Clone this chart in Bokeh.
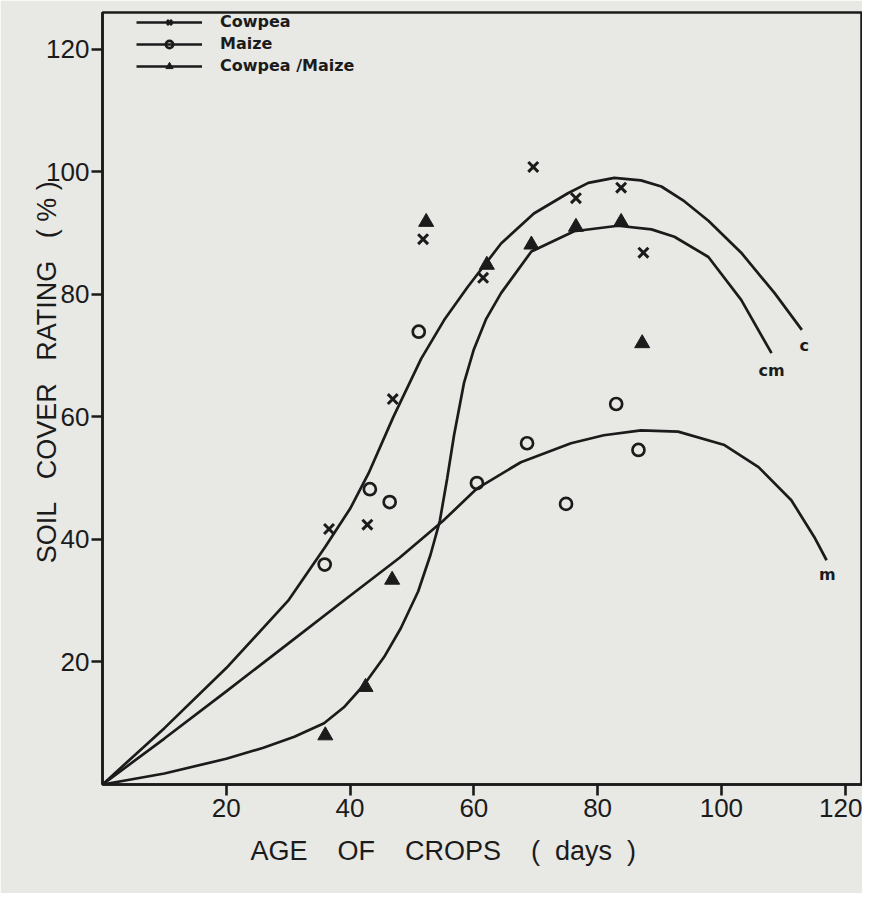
from bokeh.plotting import figure
from bokeh.models import Range1d, FixedTicker, Legend, LegendItem, Title
from bokeh.embed import file_html
from bokeh.resources import INLINE
from bokeh.core.properties import value

# ---- observed points (age in days, soil cover rating %) ----
cowpea_x = [36.6, 42.8, 46.9, 51.8, 61.5, 69.6, 76.5, 83.8, 87.4]
cowpea_y = [41.7, 42.4, 62.9, 89.0, 82.7, 100.8, 95.7, 97.4, 86.8]

maize_x = [35.9, 43.2, 46.4, 51.1, 60.5, 68.6, 74.9, 83.0, 86.6]
maize_y = [35.9, 48.2, 46.1, 73.9, 49.2, 55.7, 45.8, 62.1, 54.6]

cm_x = [36.0, 42.5, 46.8, 52.3, 62.1, 69.3, 76.5, 83.8, 87.2]
cm_y = [8.0, 15.9, 33.4, 91.8, 84.8, 88.1, 91.0, 91.8, 72.0]

# ---- hand-fitted curves ----
cowpea_curve_x = [0, 10, 20, 30, 36, 40, 43, 47, 51.5, 55.2, 59, 64.4, 69.7, 75.2, 78.5,
                  82.7, 87, 90.3, 94, 97.9, 103.2, 108.6, 113]
cowpea_curve_y = [0, 9.2, 19, 30, 38.8, 45, 50.8, 60, 69.5, 75.8, 81.2, 88.3, 93.2, 96.5, 98.2,
                  99.0, 98.6, 97.6, 95.2, 92.0, 86.8, 80.2, 74.2]

maize_curve_x = [0, 10, 20, 30, 40, 48, 55, 60.5, 67.6, 75.7, 81, 87, 93, 100.5, 106,
                 111.3, 115, 117]
maize_curve_y = [0, 7.5, 15.2, 23, 30.8, 37, 43, 48.3, 52.6, 55.7, 57, 57.8, 57.6, 55.4, 51.8,
                 46.4, 40.4, 36.6]

cm_curve_x = [0, 10, 20, 26, 31, 35.8, 39, 42.2, 45.5, 48.2, 51, 53, 54.5, 55.7, 56.8, 58.4,
              60, 62, 64.4, 69.3, 76.2, 83.3, 88.7, 92.4, 97.9, 103.2, 108.1]
cm_curve_y = [0, 1.8, 4.2, 6, 7.8, 10, 12.6, 16.2, 20.8, 25.5, 31.5, 37.5, 43, 50, 57, 65.5,
              71, 76, 80.2, 87, 90.3, 91.2, 90.6, 89.4, 86.1, 79.1, 70.4]

# curve end annotations
end_labels = ["c", "cm", "m"]
end_x = [113.4, 108.1, 117.1]
end_y = [71.6, 67.6, 34.2]

x_ticks = [20, 40, 60, 80, 100, 120]
y_ticks = [20, 40, 60, 80, 100, 120]

NB = "\u00a0"
x_title = ("AGE" + NB * 4 + "OF" + NB * 4 + "CROPS" + NB * 4 + "(" + NB * 2 + "days"
           + NB * 2 + ")")
y_title = (NB * 7 + "SOIL" + NB * 3 + "COVER" + NB * 3 + "RATING" + NB * 3 + "(" + NB
           + "%" + NB + ")")

BG = "#e8e8e5"
INK = "#1b1b1b"
FONT = "Liberation Sans"

p = figure(width=862, height=893, output_backend="svg", toolbar_location=None,
           x_range=Range1d(0, 122.8), y_range=Range1d(0, 126),
           min_border_left=102, min_border_right=0, min_border_top=12, min_border_bottom=109)
p.background_fill_color = BG
p.border_fill_color = BG
p.grid.visible = False
p.outline_line_color = INK
p.outline_line_width = 2.5

for ax, ticks in ((p.xaxis[0], x_ticks), (p.yaxis[0], y_ticks)):
    ax.ticker = FixedTicker(ticks=ticks)
    ax.axis_line_color = INK
    ax.axis_line_width = 2.6
    ax.major_tick_line_color = INK
    ax.major_tick_line_width = 2.6
    ax.major_tick_out = 11
    ax.major_tick_in = 0
    ax.minor_tick_line_color = None
    ax.major_label_text_font = FONT
    ax.major_label_text_font_size = "26px"
    ax.major_label_text_color = INK
p.xaxis.major_label_standoff = 3
p.yaxis.major_label_standoff = 2

p.yaxis.axis_label = y_title
p.yaxis.axis_label_text_font = FONT
p.yaxis.axis_label_text_font_size = "27px"
p.yaxis.axis_label_text_font_style = "normal"
p.yaxis.axis_label_text_color = INK
p.yaxis.axis_label_standoff = -19

lw = 2.7
r_c_line = p.line(cowpea_curve_x, cowpea_curve_y, line_color=INK, line_width=lw)
r_m_line = p.line(maize_curve_x, maize_curve_y, line_color=INK, line_width=lw)
r_cm_line = p.line(cm_curve_x, cm_curve_y, line_color=INK, line_width=lw)

r_c = p.scatter(cowpea_x, cowpea_y, marker="x", size=14, line_color=INK, line_width=3)
r_m = p.scatter(maize_x, maize_y, marker="circle", size=12, line_color=INK, line_width=2.7,
                fill_color=None)
r_cm = p.scatter(cm_x, cm_y, marker="triangle", size=15, line_color=INK, fill_color=INK)

p.text(x=end_x, y=end_y, text=end_labels, text_font=value("DejaVu Sans"),
       text_font_style="bold", text_font_size="16px", text_color=INK,
       text_align="center", text_baseline="middle")

legend = Legend(items=[
    LegendItem(label="Cowpea", renderers=[r_c_line, r_c]),
    LegendItem(label="Maize", renderers=[r_m_line, r_m]),
    LegendItem(label="Cowpea /Maize", renderers=[r_cm_line, r_cm]),
], location=(34, 709))
legend.background_fill_alpha = 0
legend.border_line_color = None
legend.label_text_font = "DejaVu Sans"
legend.label_text_font_style = "bold"
legend.label_text_font_size = "16px"
legend.label_text_color = INK
legend.glyph_width = 66
legend.glyph_height = 18
legend.spacing = 3
legend.margin = 0
legend.padding = 2
legend.label_standoff = 18
p.add_layout(legend)

p.add_layout(Title(text=x_title, align="left", offset=148,
                   text_font=FONT, text_font_size="27px", text_font_style="normal",
                   text_color=INK, standoff=28), "below")

open("out.html", "w").write(file_html(p, INLINE))
